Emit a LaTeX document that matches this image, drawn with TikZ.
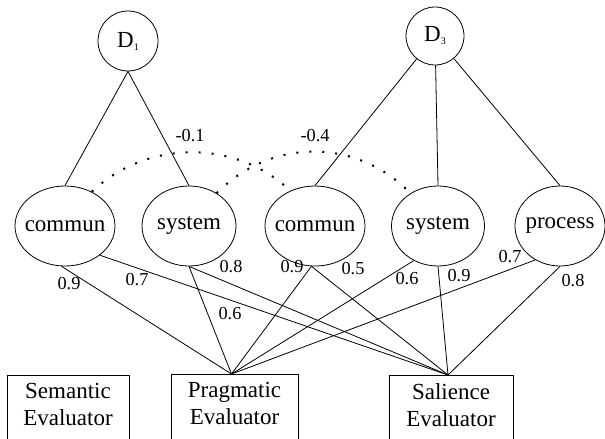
\documentclass[tikz,border=0pt]{standalone}
\usepackage{fontspec}
\setmainfont{Liberation Serif}
\usetikzlibrary{shapes.geometric, calc}
% keep the ellipse size free of the word width
\newcommand{\term}[1]{\makebox[0pt]{#1}}

\begin{document}
\begin{tikzpicture}[x=1pt, y=-1pt, line width=0.8pt,
		doc/.style={circle, draw, minimum size=60pt, inner sep=0pt, font=\fontsize{23}{27}\selectfont},
		word/.style={ellipse, draw, minimum width=100pt, minimum height=80pt, inner sep=0pt, font=\fontsize{23}{27}\selectfont},
		evaluator/.style={rectangle, draw, anchor=north, align=center, inner xsep=0pt, inner ysep=8pt, text depth=30pt, font=\fontsize{23}{27}\selectfont},
		weight/.style={inner sep=0pt, font=\fontsize{18.3}{20}\selectfont},
		link/.style={line width=2pt, line cap=butt, dash pattern=on 2pt off 11pt}
	]

	\useasboundingbox (0,0) rectangle (605,439);
	\clip (0,0) rectangle (605,439);

	\node[doc] (d1) at (128,41) {D\raisebox{-3pt}{\fontsize{10}{10}\selectfont 1}};
	\node[doc, minimum size=58pt] (d3) at (435,36) {D\raisebox{-3pt}{\fontsize{10}{10}\selectfont 3}};

	\node[word] (c1) at (65,226) {\term{commun}};
	\node[word, minimum width=94pt] (s1) at (189,226) {\term{system}};
	\node[word] (c2) at (315,226) {\term{commun}};
	\node[word, minimum width=93pt] (s2) at (438,226) {\term{system}};
	\node[word, minimum width=90pt] (p) at (560,226) {\term{process}};

	\node[evaluator, minimum width=122pt] (sem) at (68,375) {Semantic\\Evaluator};
	\node[evaluator, minimum width=127pt] (prag) at (234.5,374) {Pragmatic\\Evaluator};
	\node[evaluator, minimum width=124pt] (sal) at (451,375) {Salience\\Evaluator};

	\coordinate (pragIn) at ($(prag.north)+(-3,0)$);
	\coordinate (salIn) at ($(sal.north)+(-3,0)$);

	% documents to terms
	\draw (d1.south) -- (c1.north);
	\draw (d1.south) -- (s1.north);
	\draw (d3) -- (c2.north);
	\draw (d3) -- (s2.north);
	\draw (d3) -- (p.north);

	% term links
	\draw[link] (c1.52) .. controls +(55,-52) and +(-55,-52) .. (c2.125);
	\draw[link] (s1.50) .. controls +(55,-55) and +(-55,-56) .. (s2.130);
	\node[weight] (l1) at (190,136) {-0.1};
	\node[weight] (l2) at (315,136) {-0.4};

	% terms to evaluators
	\draw (c1.265) -- (pragIn);
	\draw (c1.320) -- (salIn);
	\draw (s1.south) -- (pragIn);
	\draw (s1.south) -- (salIn);
	\draw (c2.265) -- (pragIn);
	\draw (c2.265) -- (salIn);
	\draw (s2.235) -- (pragIn);
	\draw (s2.south) -- (salIn);
	\draw (p.234) -- (pragIn);
	\draw (p.south) -- (salIn);

	\node[weight] (w1) at (69,284) {0.9};
	\node[weight] (w2) at (137,280) {0.7};
	\node[weight] (w3) at (230,314) {0.6};
	\node[weight] (w4) at (231,267) {0.8};
	\node[weight] (w5) at (292,267) {0.9};
	\node[weight] (w6) at (353,269) {0.5};
	\node[weight] (w7) at (407,279) {0.6};
	\node[weight] (w8) at (459,276) {0.9};
	\node[weight] (w9) at (510,257) {0.7};
	\node[weight] (w10) at (573,281) {0.8};

\end{tikzpicture}
\end{document}
